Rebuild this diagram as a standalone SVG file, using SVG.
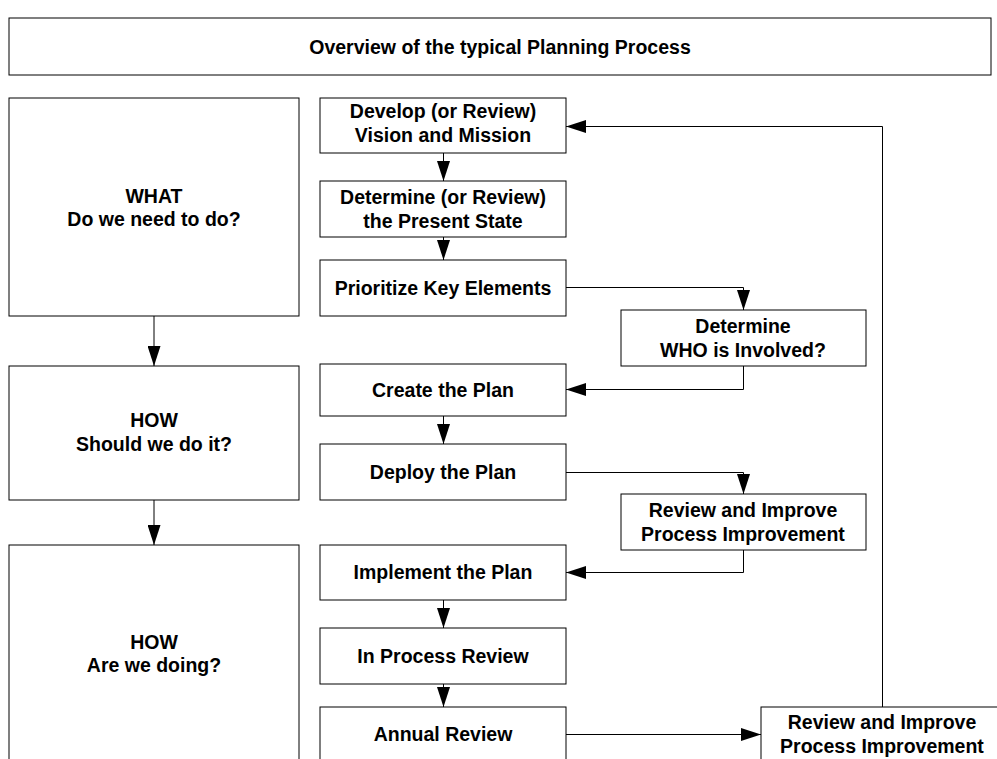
<svg xmlns="http://www.w3.org/2000/svg" width="997" height="759" viewBox="0 0 997 759">
<defs>
<marker id="ah" markerUnits="userSpaceOnUse" markerWidth="20" markerHeight="13" refX="20" refY="6.5" orient="auto">
<path d="M0,0 L20,6.5 L0,13 z" fill="#000"/>
</marker>
<style>
.box{fill:#fff;stroke:#000;stroke-width:1}
.t{font-family:"Liberation Sans",Arial,sans-serif;font-weight:bold;font-size:19.5px;fill:#000;text-anchor:middle}
.c{fill:none;stroke:#000;stroke-width:1}
.g{fill:none;stroke:#000;stroke-width:1}
</style>
</defs>
<rect x="0" y="0" width="997" height="759" fill="#fff"/>
<g id="title"><rect class="box" x="9" y="18" width="982" height="57"/><text class="t" x="500" y="54">Overview of the typical Planning Process</text></g>
<g id="what"><rect class="box" x="9" y="98" width="290" height="218"/><text class="t" x="154" y="203">WHAT</text><text class="t" x="154" y="226">Do we need to do?</text></g>
<g id="how1"><rect class="box" x="9" y="366" width="290" height="134"/><text class="t" x="154" y="427">HOW</text><text class="t" x="154" y="451">Should we do it?</text></g>
<g id="how2"><rect class="box" x="9" y="545" width="290" height="218"/><text class="t" x="154" y="649">HOW</text><text class="t" x="154" y="672">Are we doing?</text></g>
<g id="develop"><rect class="box" x="320" y="98" width="246" height="55"/><text class="t" x="443" y="118">Develop (or Review)</text><text class="t" x="443" y="142">Vision and Mission</text></g>
<g id="present"><rect class="box" x="320" y="181" width="246" height="56"/><text class="t" x="443" y="204">Determine (or Review)</text><text class="t" x="443" y="228">the Present State</text></g>
<g id="prioritize"><rect class="box" x="320" y="260" width="246" height="56"/><text class="t" x="443" y="295">Prioritize Key Elements</text></g>
<g id="create"><rect class="box" x="320" y="364" width="246" height="52"/><text class="t" x="443" y="397">Create the Plan</text></g>
<g id="deploy"><rect class="box" x="320" y="444" width="246" height="56"/><text class="t" x="443" y="479">Deploy the Plan</text></g>
<g id="implement"><rect class="box" x="320" y="545" width="246" height="55"/><text class="t" x="443" y="579">Implement the Plan</text></g>
<g id="inprocess"><rect class="box" x="320" y="628" width="246" height="56"/><text class="t" x="443" y="663">In Process Review</text></g>
<g id="annual"><rect class="box" x="320" y="707" width="246" height="56"/><text class="t" x="443" y="741">Annual Review</text></g>
<g id="who"><rect class="box" x="621" y="310" width="245" height="56"/><text class="t" x="743" y="333">Determine</text><text class="t" x="743" y="357">WHO is Involved?</text></g>
<g id="review1"><rect class="box" x="621" y="494" width="245" height="56"/><text class="t" x="743" y="517">Review and Improve</text><text class="t" x="743" y="541">Process Improvement</text></g>
<g id="review2"><rect class="box" x="761" y="707" width="245" height="56"/><text class="t" x="882" y="729">Review and Improve</text><text class="t" x="882" y="753">Process Improvement</text></g>
<g id="connectors">
<path class="g" d="M154 316 V366" marker-end="url(#ah)"/>
<path class="g" d="M154 500 V545" marker-end="url(#ah)"/>
<path class="c" d="M443.5 153 V181" marker-end="url(#ah)"/>
<path class="c" d="M443.5 237 V260" marker-end="url(#ah)"/>
<path class="c" d="M443.5 416 V444" marker-end="url(#ah)"/>
<path class="c" d="M443.5 600 V628" marker-end="url(#ah)"/>
<path class="c" d="M443.5 684 V707" marker-end="url(#ah)"/>
<path class="c" d="M566 287.5 H743.5 V310" marker-end="url(#ah)"/>
<path class="c" d="M743.5 366 V389.5 H566" marker-end="url(#ah)"/>
<path class="c" d="M566 472.5 H743.5 V494" marker-end="url(#ah)"/>
<path class="c" d="M743.5 550 V572.5 H566" marker-end="url(#ah)"/>
<path class="c" d="M566 734.5 H761" marker-end="url(#ah)"/>
<path class="c" d="M882.5 707 V126.5 H566" marker-end="url(#ah)"/>
</g>
</svg>
